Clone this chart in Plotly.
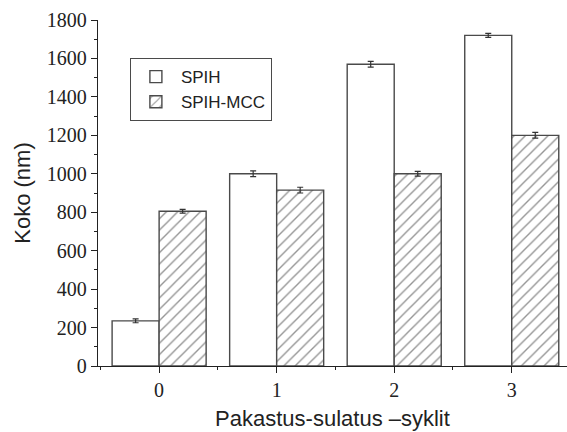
import plotly.graph_objects as go

cycles = [0, 1, 2, 3]
tick_labels = ["0", "1", "2", "3"]
spih = [235, 1000, 1570, 1720]
spih_err = [10, 15, 15, 10]
mcc = [805, 915, 1000, 1200]
mcc_err = [10, 15, 12, 15]

outline = "#4a4a4a"

fig = go.Figure()
fig.add_trace(go.Bar(
    x=cycles, y=spih, name="SPIH",
    marker=dict(color="white", line=dict(color=outline, width=1.4)),
    error_y=dict(type="data", array=spih_err, color="#333", thickness=1.2, width=3),
))
fig.add_trace(go.Bar(
    x=cycles, y=mcc, name="SPIH-MCC",
    marker=dict(color="white", line=dict(color=outline, width=1.4),
                pattern=dict(shape="/", fgcolor="#2a2a2a", bgcolor="white", size=8, solidity=0.17)),
    error_y=dict(type="data", array=mcc_err, color="#333", thickness=1.2, width=3),
))

fig.update_layout(
    width=567, height=432,
    margin=dict(l=98, r=0, t=20, b=66),
    paper_bgcolor="white", plot_bgcolor="white",
    barmode="group", bargap=0.2, bargroupgap=0,
    showlegend=True,
    legend=dict(
        x=0.068, y=0.89, xanchor="left", yanchor="top",
        bordercolor=outline, borderwidth=1, bgcolor="white",
        font=dict(family="Liberation Sans, Arial, sans-serif", size=17, color="#222"),
        tracegroupgap=0, itemwidth=40,
    ),
    xaxis=dict(
        range=[-0.52, 3.47],
        tickmode="array", tickvals=cycles, ticktext=tick_labels,
        showgrid=False, zeroline=False,
        showline=True, linecolor="#222", linewidth=1.4,
        ticks="outside", ticklen=6, tickwidth=1.3, tickcolor="#222",
        minor=dict(dtick=0.5, tick0=0, ticks="outside", ticklen=3, tickwidth=1.2, tickcolor="#222", showgrid=False),
        tickfont=dict(family="Liberation Serif, Times New Roman, serif", size=20, color="#222"),
        title=dict(text="Pakastus-sulatus –syklit",
                   font=dict(family="Liberation Sans, Arial, sans-serif", size=22, color="#222"),
                   standoff=10),
    ),
    yaxis=dict(
        range=[0, 1800],
        tickmode="linear", tick0=0, dtick=200,
        showgrid=False, zeroline=False,
        showline=True, linecolor="#222", linewidth=1.4,
        ticks="outside", ticklen=6, tickwidth=1.3, tickcolor="#222",
        minor=dict(dtick=100, ticks="outside", ticklen=3, tickwidth=1.2, tickcolor="#222", showgrid=False),
        tickfont=dict(family="Liberation Serif, Times New Roman, serif", size=20, color="#222"),
        title=dict(text="Koko (nm)",
                   font=dict(family="Liberation Sans, Arial, sans-serif", size=22, color="#222"),
                   standoff=10),
    ),
)

fig.write_html("out.html", config={"displayModeBar": False})

# remove default page margin so the figure sits at the window's top-left corner
with open("out.html", "r", encoding="utf-8") as f:
    html = f.read()
html = html.replace("<head>", "<head><style>html,body{margin:0;padding:0;overflow:hidden;}</style>", 1)
with open("out.html", "w", encoding="utf-8") as f:
    f.write(html)
